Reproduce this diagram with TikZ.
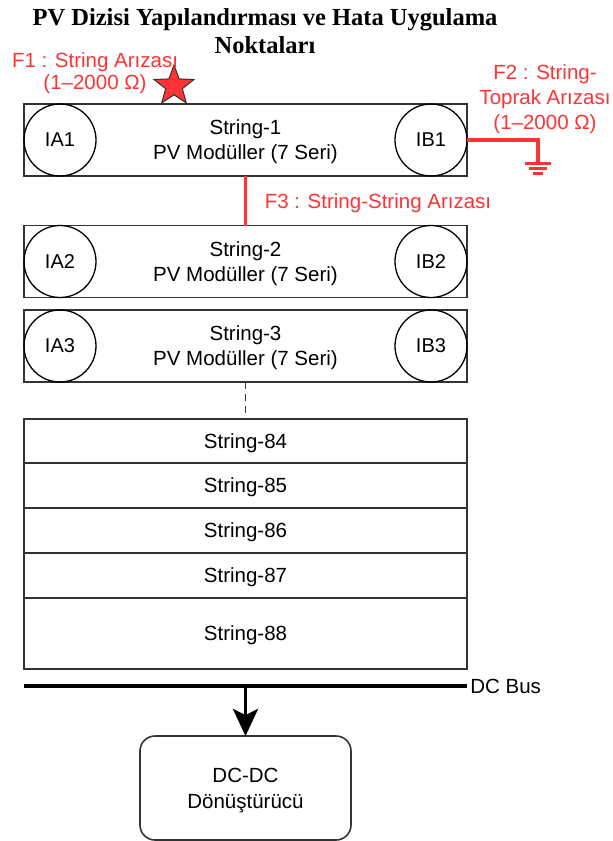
\documentclass[tikz,border=0pt]{standalone}
\usepackage{fontspec}
\setmainfont{Liberation Sans}
\newfontfamily\titlefont{Liberation Serif}
\usepackage{tikz}
\usetikzlibrary{arrows.meta,positioning,shapes.geometric}
\definecolor{fault}{HTML}{FF3333}
\definecolor{frame}{HTML}{333333}

\begin{document}
\begin{tikzpicture}[x=1pt, y=-1pt, >=Stealth,
    every node/.style={outer sep=0pt},
    strbox/.style={draw=frame, line width=1.6pt, minimum width=443pt, minimum height=72pt,
                inner sep=0pt, text depth=0pt, align=center, font=\fontsize{20.5}{25}\selectfont},
    meter/.style={circle, draw=black, line width=1.3pt, minimum size=72pt, inner sep=0pt,
                font=\fontsize{20}{24}\selectfont},
    faultlbl/.style={text=fault, align=center, text depth=0pt, font=\fontsize{20.5}{25}\selectfont},
    faultwire/.style={draw=fault, line width=3.5pt}]
  \useasboundingbox (0,0) rectangle (613,841);
  \node[font=\titlefont\bfseries\fontsize{24.5}{28}\selectfont, align=center] (title) at (265,31)
    {PV Dizisi Yapılandırması ve Hata Uygulama\\Noktaları};
  \node[strbox] (s1) at (245.5,140) {String-1\\PV Modüller (7 Seri)};
  \node[strbox] (s2) at (245.5,261.5) {String-2\\PV Modüller (7 Seri)};
  \node[strbox] (s3) at (245.5,346) {String-3\\PV Modüller (7 Seri)};
  \foreach \i in {1,2,3} {
    \node[meter, right=0pt of s\i.west] (ia\i) {IA\i};
    \node[meter, left=0pt of s\i.east] (ib\i) {IB\i};
  }
  \node[strbox, minimum height=44pt] (s84) at (245.5,441) {String-84};
  \node[strbox, minimum height=45pt, below=0pt of s84] (s85) {String-85};
  \node[strbox, minimum height=45pt, below=0pt of s85] (s86) {String-86};
  \node[strbox, minimum height=45pt, below=0pt of s86] (s87) {String-87};
  \node[strbox, minimum height=71pt, below=0pt of s87] (s88) {String-88};
  \draw[frame, line width=1.5pt, dash pattern=on 7pt off 5pt] (s3.south) -- (s84.north);

  \node[star, star points=5, star point ratio=2.4, minimum size=42pt, inner sep=0pt,
        fill=fault, draw=frame, line width=1pt] (f1) at (174,86) {};
  \node[faultlbl, font=\fontsize{20.5}{22}\selectfont] (f1lbl) at (95,71)
    {F1 : String Arızası\\(1–2000 Ω)};
  \node[faultlbl] (f2lbl) at (545,97) {F2 : String-\\Toprak Arızası\\(1–2000 Ω)};
  \coordinate (gnd) at (538,163);
  \draw[faultwire] (ib1.east) -| (gnd);
  \draw[fault, line width=3pt] (gnd) ++(-13,0) -- ++(26,0)
    (gnd) ++(-9,5) -- ++(18,0) (gnd) ++(-5,10) -- ++(10,0);
  \draw[faultwire] (s1.south) -- node[faultlbl, right=16pt] (f3lbl) {F3 : String-String Arızası} (s2.north);

  \coordinate (busL) at ([yshift=-17pt]s88.south west);
  \coordinate (busR) at ([yshift=-17pt]s88.south east);
  \draw[line width=3.5pt] (busL) -- (busR)
    node[right=0pt, font=\fontsize{20.5}{24}\selectfont] (buslbl) {DC Bus};
  \node[draw=frame, line width=1.6pt, rounded corners=15pt, minimum width=211pt,
        minimum height=104pt, align=center, text depth=0pt, font=\fontsize{20.5}{26}\selectfont]
    (conv) at (245.5,788) {DC-DC\\Dönüştürücü};
  \draw[-{Stealth[length=27pt, width=25pt, inset=6pt]}, line width=3.5pt]
    (busL -| conv.north) -- (conv.north);
\end{tikzpicture}
\end{document}
